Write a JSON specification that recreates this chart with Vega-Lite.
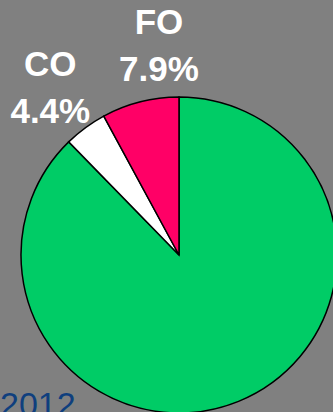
{
  "$schema": "https://vega.github.io/schema/vega-lite/v6.json",
  "width": 316,
  "height": 316,
  "autosize": {"type": "none"},
  "padding": {"left": 21, "top": 97, "right": -4, "bottom": -1},
  "background": "#808080",
  "view": {"stroke": null},
  "title": {
    "text": "2012",
    "orient": "bottom",
    "anchor": "start",
    "frame": "group",
    "baseline": "alphabetic",
    "offset": 0,
    "dx": -21,
    "dy": -34,
    "font": "Liberation Sans",
    "fontSize": 34,
    "fontWeight": "normal",
    "color": "#0f3f7e"
  },
  "data": {
    "values": [
      {"cat": "Other", "value": 87.7, "o": 1, "label": ""},
      {"cat": "CO", "value": 4.4, "o": 2, "label": ["CO", "4.4%"]},
      {"cat": "FO", "value": 7.9, "o": 3, "label": ["FO", "7.9%"]}
    ]
  },
  "encoding": {
    "theta": {"field": "value", "type": "quantitative", "stack": true},
    "order": {"field": "o", "type": "quantitative"}
  },
  "layer": [
    {
      "mark": {"type": "arc", "stroke": "#000000", "strokeWidth": 1.5},
      "encoding": {
        "color": {
          "field": "cat",
          "type": "nominal",
          "scale": {"domain": ["Other", "CO", "FO"], "range": ["#00cc66", "#ffffff", "#ff0066"]},
          "legend": null
        }
      }
    },
    {
      "mark": {
        "type": "text",
        "radius": 212,
        "font": "Liberation Sans",
        "fontWeight": "bold",
        "fontSize": 35,
        "lineHeight": 47,
        "color": "#ffffff",
        "align": "center",
        "baseline": "middle",
        "dx": {"expr": "datum.cat == 'FO' ? 32 : -3"},
        "dy": {"expr": "datum.cat == 'FO' ? -26 : -19"}
      },
      "encoding": {
        "text": {"field": "label"}
      }
    }
  ]
}
